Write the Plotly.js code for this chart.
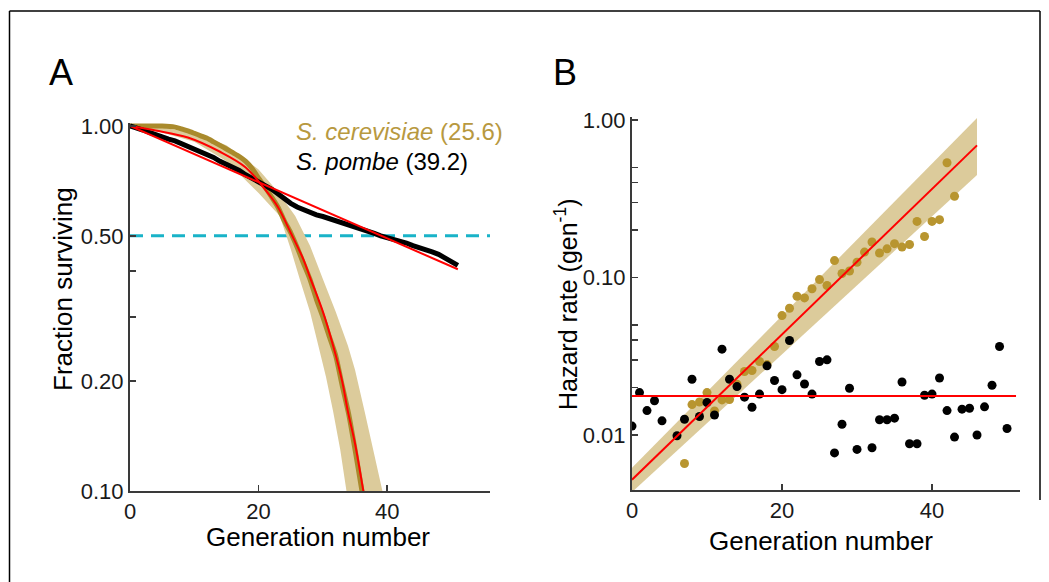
<!DOCTYPE html>
<html>
<head>
<meta charset="utf-8">
<script src="https://cdn.plot.ly/plotly-3.0.1.min.js"></script>
<style>html,body{margin:0;padding:0;background:#fff;}#chart{width:1049px;height:582px;}</style>
</head>
<body>
<div id="chart"></div>
<script>
// ---------- Panel A: survival curves ----------
const genPombeA = [0,1,2,3,4,5,6,7,8,9,10,11,12,13,14,15,16,17,18,19,20,21,22,23,24,25,26,27,28,29,30,31,32,33,34,35,36,37,38,39,40,41,42,43,44,45,46,47,48,49,50,51];
const survPombe = [1.00,0.99,0.975,0.96,0.945,0.93,0.92,0.91,0.895,0.88,0.865,0.855,0.84,0.82,0.80,0.785,0.77,0.755,0.735,0.72,0.70,0.69,0.672,0.652,0.632,0.614,0.600,0.589,0.579,0.571,0.565,0.558,0.55,0.545,0.537,0.53,0.523,0.515,0.508,0.50,0.495,0.49,0.485,0.478,0.47,0.465,0.458,0.452,0.445,0.435,0.425,0.415];

const genCerA = [0,5,7,8,9,10,11,12,13,14,15,16,17,18,19,20,21,22,23,24,25,26,27,28,29,30,31,32,33,34,35,36,37];
const survCer = [1.0,1.0,0.993,0.982,0.97,0.955,0.94,0.925,0.905,0.885,0.865,0.845,0.825,0.80,0.765,0.72,0.68,0.64,0.60,0.55,0.51,0.465,0.42,0.38,0.335,0.30,0.265,0.235,0.195,0.163,0.13,0.102,0.08];

// fitted curves
const fitPombeA_x = [0,51];
const fitPombeA_y = [1.0,0.405];
const fitCerA_x = [0,4,9,14,18,21,23,25,27,28,30,31.6,33,33.9,35,36.3,37];
const fitCerA_y = [1.0,0.972,0.93,0.85,0.77,0.67,0.60,0.51,0.43,0.385,0.31,0.25,0.2,0.165,0.135,0.10,0.085];

// confidence band of the S. cerevisiae fit
const bandA_upper_x = [0,5,10,15,20,23,25.7,28,30,32,33.9,35,36.5,38,39.2,40.5];
const bandA_upper_y = [1.0,0.99,0.955,0.885,0.76,0.66,0.567,0.47,0.381,0.31,0.25,0.215,0.165,0.125,0.10,0.08];
const bandA_lower_x = [0,5,10,15,20,23.3,25,26.4,28,29.3,30.5,31.6,32.7,33.7,34.5];
const bandA_lower_y = [1.0,0.96,0.905,0.80,0.655,0.567,0.46,0.381,0.31,0.25,0.205,0.165,0.13,0.10,0.08];

const halfX = [0,56];
const halfY = [0.5,0.5];

const yTicksA = [0.1,0.2,0.5,1];
const yTickTextA = ['0.10','0.20','0.50','1.00'];
const yMinorA = [0.3,0.4];

// ---------- Panel B: hazard rates ----------
const genCerB = [7,8,9,10,11,12,13,14,15,16,17,18,19,20,21,22,23,24,25,26,27,28,29,30,31,32,33,34,35,36,37,38,39,40,41,42,43];
const hazCer = [0.0066,0.0156,0.0162,0.0186,0.0142,0.0167,0.0168,0.021,0.0253,0.0257,0.0293,0.028,0.0365,0.0573,0.0638,0.076,0.0742,0.0848,0.097,0.089,0.128,0.106,0.110,0.125,0.145,0.168,0.143,0.152,0.164,0.156,0.162,0.227,0.182,0.227,0.233,0.535,0.328];

const genPombeB = [0,1,2,3,4,6,7,8,9,10,11,12,13,14,15,16,17,18,19,20,21,22,23,24,25,26,27,28,29,30,32,33,34,35,36,37,38,39,40,41,42,43,44,45,46,47,48,49,50];
const hazPombe = [0.0114,0.0186,0.0143,0.0165,0.0123,0.0099,0.0126,0.0226,0.0131,0.0161,0.0134,0.0351,0.0226,0.0203,0.0174,0.0150,0.0182,0.0275,0.0222,0.0194,0.0398,0.0241,0.0211,0.0182,0.0293,0.0300,0.0077,0.0117,0.0198,0.0081,0.0083,0.0125,0.0125,0.0128,0.0217,0.0088,0.0088,0.0179,0.0182,0.0230,0.0143,0.0097,0.0146,0.0148,0.0100,0.0151,0.0207,0.0365,0.0110];

const fitCerB_x = [0,46];
const fitCerB_y = [0.0052,0.69];
const fitPombeB_x = [0,51.2];
const fitPombeB_y = [0.0177,0.0177];
const bandB_x = [0,46,46,0];
const bandB_y = [0.00434,0.447,1.03,0.0062];

const yTicksB = [0.01,0.1,1];
const yTickTextB = ['0.01','0.10','1.00'];
const yMinorB = [0.02,0.03,0.04,0.05,0.2,0.3,0.4,0.5];
const xTicks = [0,20,40];

// ---------- styles ----------
const W = 1049, H = 582;
const px = x => x / W;
const py = y => 1 - y / H;
const FONT = 'Liberation Sans, Arial, Helvetica, sans-serif';
const GOLD_LINE = '#a98a2c';
const GOLD_DOT = '#b8952f';
const BAND = '#dccb9b';
const RED = '#ff0000';
const AXC = '#3a3a3a';

const bandAx = bandA_upper_x.concat(bandA_lower_x.slice().reverse());
const bandAy = bandA_upper_y.concat(bandA_lower_y.slice().reverse());

const traces = [
  {x: halfX, y: halfY, xaxis:'x', yaxis:'y', mode:'lines', line:{color:'#19b3c8', width:3, dash:'13px,8px'}, hoverinfo:'skip'},
  {x: bandAx, y: bandAy, xaxis:'x', yaxis:'y', mode:'lines', fill:'toself', fillcolor:BAND, line:{width:0, color:BAND}, hoverinfo:'skip'},
  {x: genCerA, y: survCer, xaxis:'x', yaxis:'y', mode:'lines', line:{color:GOLD_LINE, width:5, shape:'spline', smoothing:0.6}, name:'S. cerevisiae'},
  {x: genPombeA, y: survPombe, xaxis:'x', yaxis:'y', mode:'lines', line:{color:'#000', width:5}, name:'S. pombe'},
  {x: fitPombeA_x, y: fitPombeA_y, xaxis:'x', yaxis:'y', mode:'lines', line:{color:RED, width:2}},
  {x: fitCerA_x, y: fitCerA_y, xaxis:'x', yaxis:'y', mode:'lines', line:{color:RED, width:2, shape:'spline'}},

  {x: bandB_x, y: bandB_y, xaxis:'x2', yaxis:'y2', mode:'lines', fill:'toself', fillcolor:BAND, line:{width:0, color:BAND}, hoverinfo:'skip'},
  {x: genCerB, y: hazCer, xaxis:'x2', yaxis:'y2', mode:'markers', marker:{color:GOLD_DOT, size:9}},
  {x: genPombeB, y: hazPombe, xaxis:'x2', yaxis:'y2', mode:'markers', marker:{color:'#000', size:9}},
  {x: fitCerB_x, y: fitCerB_y, xaxis:'x2', yaxis:'y2', mode:'lines', line:{color:RED, width:2}},
  {x: fitPombeB_x, y: fitPombeB_y, xaxis:'x2', yaxis:'y2', mode:'lines', line:{color:RED, width:2}}
];

const axCommon = {
  showline:true, linecolor:AXC, linewidth:2, ticks:'inside', ticklen:6, tickwidth:1.5, tickcolor:AXC,
  showgrid:false, zeroline:false, tickfont:{family:FONT, size:22, color:'#1a1a1a'}, automargin:false, fixedrange:true
};

const layout = {
  width:W, height:H, margin:{l:0,r:0,t:0,b:0}, paper_bgcolor:'#fff', plot_bgcolor:'rgba(0,0,0,0)',
  showlegend:false, font:{family:FONT, color:'#000'},
  xaxis: Object.assign({}, axCommon, {domain:[px(130), px(490)], range:[0,56], anchor:'y', tickvals:xTicks}),
  yaxis: Object.assign({}, axCommon, {type:'log', domain:[py(491), py(123)], range:[-1, 0.0082], anchor:'x', tickvals:yTicksA, ticktext:yTickTextA,
    minor:{tickvals:yMinorA, ticks:'inside', ticklen:6, tickwidth:1.5, tickcolor:AXC, showgrid:false}}),
  xaxis2: Object.assign({}, axCommon, {domain:[px(632), px(1020)], range:[0,51.73], anchor:'y2', tickvals:xTicks}),
  yaxis2: Object.assign({}, axCommon, {type:'log', domain:[py(490), py(117)], range:[-2.349, 0.019], anchor:'x2', tickvals:yTicksB, ticktext:yTickTextB,
    minor:{tickvals:yMinorB, ticks:'inside', ticklen:6, tickwidth:1.5, tickcolor:AXC, showgrid:false}}),
  shapes: [
    {type:'line', xref:'paper', yref:'paper', x0:px(9.5), x1:px(9.5), y0:py(11), y1:py(582), line:{color:'#000', width:1.5}},
    {type:'line', xref:'paper', yref:'paper', x0:px(9.5), x1:px(1040), y0:py(11), y1:py(11), line:{color:'#000', width:1.5}},
    {type:'line', xref:'paper', yref:'paper', x0:px(1040), x1:px(1040), y0:py(11), y1:py(500), line:{color:'#000', width:1.5}}
  ],
  annotations: [
    {text:'A', x:px(47), y:py(72), xref:'paper', yref:'paper', xanchor:'left', yanchor:'middle', showarrow:false, font:{size:36, family:FONT, color:'#000'}},
    {text:'B', x:px(551), y:py(72), xref:'paper', yref:'paper', xanchor:'left', yanchor:'middle', showarrow:false, font:{size:36, family:FONT, color:'#000'}},
    {text:'Generation number', x:px(318), y:py(537), xref:'paper', yref:'paper', xanchor:'center', yanchor:'middle', showarrow:false, font:{size:26, family:FONT, color:'#000'}},
    {text:'Fraction surviving', x:px(63), y:py(289), xref:'paper', yref:'paper', xanchor:'center', yanchor:'middle', textangle:-90, showarrow:false, font:{size:26, family:FONT, color:'#000'}},
    {text:'Generation number', x:px(821), y:py(541), xref:'paper', yref:'paper', xanchor:'center', yanchor:'middle', showarrow:false, font:{size:26, family:FONT, color:'#000'}},
    {text:'Hazard rate (gen<sup>-1</sup>)', x:px(566), y:py(304), xref:'paper', yref:'paper', xanchor:'center', yanchor:'middle', textangle:-90, showarrow:false, font:{size:25, family:FONT, color:'#000'}},
    {text:'<i>S. cerevisiae</i> (25.6)', x:px(294), y:py(131), xref:'paper', yref:'paper', xanchor:'left', yanchor:'middle', showarrow:false, font:{size:24, family:FONT, color:'#b8993f'}},
    {text:'<i>S. pombe</i> (39.2)', x:px(294), y:py(161), xref:'paper', yref:'paper', xanchor:'left', yanchor:'middle', showarrow:false, font:{size:24, family:FONT, color:'#000'}}
  ]
};

Plotly.newPlot('chart', traces, layout, {displayModeBar:false, staticPlot:true});
</script>
</body>
</html>
